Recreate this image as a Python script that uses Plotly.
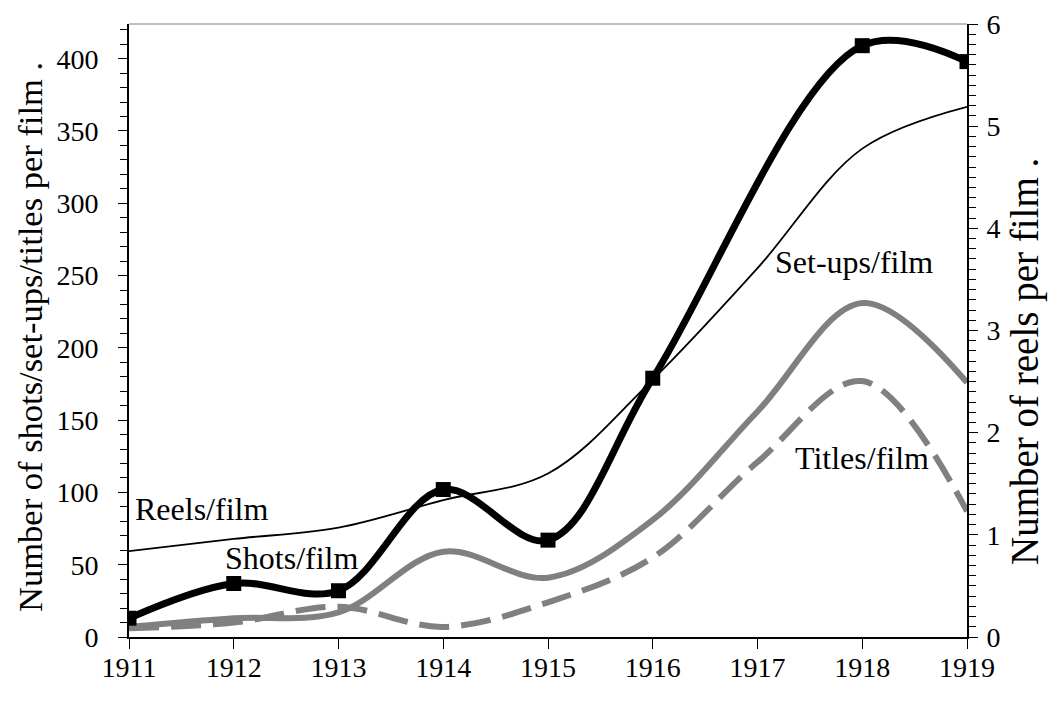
import plotly.graph_objects as go

years = [1911, 1912, 1913, 1914, 1915, 1916, 1917, 1918, 1919]
shots_years = [1911, 1912, 1913, 1914, 1915, 1916, 1918, 1919]
shots = [13, 37, 32, 102, 67, 179, 409, 398]
setups = [7, 13, 17, 59, 41, 81, 156, 231, 176]
titles = [6, 10, 21, 7, 24, 55, 121, 177, 87]
reels = [0.84, 0.96, 1.07, 1.34, 1.60, 2.52, 3.61, 4.78, 5.19]

label_texts = ["Reels/film", "Shots/film", "Set-ups/film", "Titles/film"]
label_x = [1911.69, 1912.55, 1917.92, 1918.0]
label_y = [88.8, 54.5, 259.6, 123.8]

left_title = "Number of shots/set-ups/titles per film ."
right_title = "Number of reels per film ."

FONT = "Liberation Serif, Times New Roman, serif"
GREY = "#808080"

fig = go.Figure()
fig.add_trace(go.Scatter(x=years, y=setups, mode="lines",
                         line=dict(color=GREY, width=6, shape="spline", smoothing=1),
                         name="Set-ups/film", yaxis="y"))
fig.add_trace(go.Scatter(x=years, y=titles, mode="lines",
                         line=dict(color=GREY, width=6, shape="spline", smoothing=1, dash="30px,12px"),
                         name="Titles/film", yaxis="y"))
fig.add_trace(go.Scatter(x=shots_years, y=shots, mode="lines+markers",
                         line=dict(color="black", width=7, shape="spline", smoothing=1),
                         marker=dict(symbol="square", size=15, color="black"),
                         name="Shots/film", yaxis="y"))
fig.add_trace(go.Scatter(x=years, y=reels, mode="lines",
                         line=dict(color="black", width=1.8, shape="spline", smoothing=1),
                         name="Reels/film", yaxis="y2"))

for t, x, y in zip(label_texts, label_x, label_y):
    fig.add_annotation(x=x, y=y, xref="x", yref="y", text=t, showarrow=False,
                       font=dict(family=FONT, size=32, color="black"))

fig.add_annotation(x=-0.119, y=0.49, xref="paper", yref="paper", text=left_title,
                   textangle=-90, showarrow=False, font=dict(family=FONT, size=34.5, color="black"),
                   xanchor="center", yanchor="middle")
fig.add_annotation(x=1.069, y=0.45, xref="paper", yref="paper", text=right_title,
                   textangle=-90, showarrow=False, font=dict(family=FONT, size=39, color="black"),
                   xanchor="center", yanchor="middle")

tickfont = dict(family=FONT, size=28, color="black")

fig.update_layout(
    width=1058, height=702,
    margin=dict(l=121, r=99, t=16, b=73, autoexpand=False),
    paper_bgcolor="white", plot_bgcolor="white",
    showlegend=False,
    xaxis=dict(range=[1911, 1919], tickvals=years, ticktext=[str(y) for y in years],
               ticks="outside", ticklen=10, tickwidth=1, tickcolor="black",
               showline=True, linecolor="black", linewidth=2, showgrid=False, zeroline=False,
               tickfont=tickfont, ticklabelstandoff=-6, ticklabeloverflow="allow"),
    yaxis=dict(range=[0, 424], tickmode="linear", tick0=0, dtick=50,
               ticks="outside", ticklen=9, tickwidth=1, tickcolor="black",
               minor=dict(ticks="outside", ticklen=7, dtick=10, tick0=0, tickcolor="black", tickwidth=1),
               showline=True, linecolor="black", linewidth=2, showgrid=False, zeroline=False,
               tickfont=tickfont, ticklabelstandoff=14, ticklabeloverflow="allow"),
    yaxis2=dict(range=[0, 6], overlaying="y", side="right", tickmode="linear", tick0=0, dtick=1,
                ticks="outside", ticklen=9, tickwidth=1, tickcolor="black",
                minor=dict(ticks="outside", ticklen=7, dtick=0.1, tick0=0, tickcolor="black", tickwidth=1),
                showline=True, linecolor="black", linewidth=2, showgrid=False, zeroline=False,
                tickfont=tickfont, ticklabelstandoff=3, ticklabeloverflow="allow"),
    yaxis3=dict(range=[0, 424], overlaying="y", side="left", tickmode="linear", tick0=0, dtick=50,
                ticks="inside", ticklen=9, tickwidth=1, tickcolor="black",
                showticklabels=False, showline=False, showgrid=False, zeroline=False),
    yaxis4=dict(range=[0, 6], overlaying="y", side="right", tickmode="linear", tick0=0, dtick=1,
                ticks="inside", ticklen=9, tickwidth=1, tickcolor="black",
                showticklabels=False, showline=False, showgrid=False, zeroline=False),
)
fig.add_shape(type="line", xref="paper", yref="paper", x0=0, x1=1, y0=1, y1=1,
              line=dict(color=GREY, width=1))

fig.write_html("out.html")
